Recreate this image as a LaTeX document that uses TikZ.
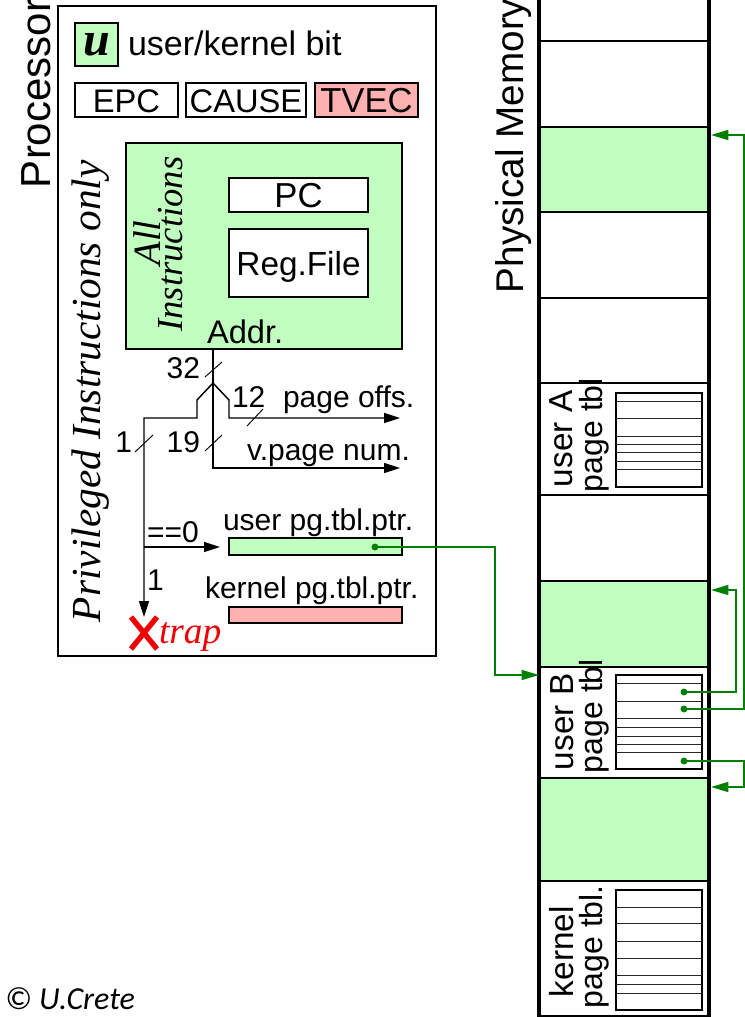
\documentclass[tikz,border=0pt]{standalone}
\usepackage{fontspec}
\setmainfont{Liberation Sans}
\newfontfamily\tmsfont{Liberation Serif}
\newfontfamily\crfont{Carlito}
\usetikzlibrary{fit,arrows.meta}
\newcommand\fsz[1]{\fontsize{#1}{#1}\selectfont}
\definecolor{lgreen}{RGB}{192,255,192}
\definecolor{lpink}{RGB}{255,176,176}
\definecolor{dgreen}{RGB}{0,128,0}
\definecolor{xred}{RGB}{240,0,0}
\begin{document}
\begin{tikzpicture}[x=0.75pt,y=-0.75pt,
 every node/.style={inner sep=0pt,outer sep=0pt},
 regbox/.style={draw,line width=1.1pt},
 boxtext/.style={font=\fsz{24.5pt}},
 lblbig/.style={font=\fsz{24.5pt}},
 lblsmall/.style={font=\fsz{22.5pt}},
 rotlbl/.style={rotate=90,anchor=base west,font=\fsz{24pt}},
 rotlblb/.style={rotate=90,anchor=base west,font=\fsz{25pt}},
 bus/.style={line width=1.1pt},
 busarrow/.style={line width=1.1pt,-{Triangle[length=12pt,width=7.5pt]}},
 garrow/.style={draw=dgreen,line width=1pt,-{Triangle[length=13pt,width=7.5pt]}},
 gdot/.style={circle,fill=dgreen,minimum size=5.2pt},
 divider/.style={line width=1.1pt},
 tblline/.style={line width=0.75pt,black!85},
 ptbl/.style={draw,line width=1pt,fill=white},
 slash/.style={line width=0.7pt},
]
\useasboundingbox (0,0) rectangle (745,1017);

% ---------------- Processor ----------------
\node[draw,line width=2.2pt,fit={(58,6) (436,656)}] (proc) {};
\node[rotate=90,anchor=base west,font=\fsz{31.5pt}] (proclbl) at (50,188) {Processor};

\node[draw,fill=lgreen,line width=2pt,fit={(75,23) (118,66)}] (ubox) {};
\node[font=\tmsfont\bfseries\itshape\fsz{36pt},anchor=base] (ulbl) at (97,55) {u};
\node[anchor=base west,font=\fsz{25.5pt}] (ukb) at (128,55) {user/kernel bit};

\node[regbox,fit={(75,83) (178,117)}] (epc) {};
\node[regbox,fit={(186,83) (306,117)}] (cause) {};
\node[regbox,fill=lpink,fit={(315,83) (418,117)}] (tvec) {};
\node[boxtext,anchor=base] (epct) at (126.5,112) {EPC};
\node[boxtext,anchor=base] (causet) at (246,112) {CAUSE};
\node[boxtext,font=\fsz{26pt},anchor=base] (tvect) at (366.5,112) {TVEC};

\node[rotate=90,anchor=base west,font=\tmsfont\itshape\fsz{31pt}] (priv) at (100,622) {Privileged Instructions only};

\node[draw,fill=lgreen,line width=0.9pt,fit={(126,143) (402,349)}] (allbox) {};
\node[regbox,fill=white,fit={(229,178) (368,212)}] (pc) {};
\node[regbox,fill=white,fit={(229,229) (368,297)}] (rf) {};
\node[font=\fsz{26pt},anchor=base] (pct) at (298.5,207) {PC};
\node[font=\fsz{25pt},anchor=base] (rft) at (298.5,275) {Reg.File};
\node[rotate=90,anchor=base,font=\tmsfont\itshape\fsz{29pt}] (all) at (160,243) {All};
\node[rotate=90,anchor=base,font=\tmsfont\itshape\fsz{27.5pt}] (instr) at (182,244) {Instructions};
\node[anchor=base west,lblbig] (addr) at (207,343) {Addr.};

% bus
\coordinate (a0) at (213,349);
\coordinate (j) at (213,383);
\coordinate (l1) at (197,400);
\coordinate (l2) at (197,418);
\coordinate (l3) at (144,418);
\coordinate (trapin) at (144,617);
\coordinate (r1) at (229,400);
\coordinate (r2) at (229,418);
\coordinate (po) at (400,418);
\coordinate (m1) at (213,468);
\coordinate (vp) at (400,468);
\coordinate (eq0) at (144,547);
\coordinate (eqend) at (220,547);

\draw[bus] (a0) -- (j);
\draw[busarrow] (j) -- (l1) -- (l2) -- (l3) -- (trapin);
\draw[busarrow] (j) -- (r1) -- (r2) -- (po);
\draw[busarrow] (j) -- (m1) -- (vp);
\draw[busarrow] (eq0) -- (eqend);

\draw[slash] (205,377) -- (222,362);
\draw[slash] (247,426) -- (263,409);
\draw[slash] (135,452) -- (153,435);
\draw[slash] (205,451) -- (222,435);

\node[anchor=base east,lblsmall] (n32) at (200,378) {32};
\node[anchor=base west,lblsmall] (n12) at (232,407) {12};
\node[anchor=base west,lblsmall] (pgoffs) at (283,407) {page offs.};
\node[anchor=base east,lblsmall] (n1a) at (132,452) {1};
\node[anchor=base east,lblsmall] (n19) at (200,452) {19};
\node[anchor=base west,lblsmall] (vpn) at (247,460) {v.page num.};
\node[anchor=base west,lblsmall] (eqz) at (147,542) {==0};
\node[anchor=base west,lblsmall] (n1b) at (147,590) {1};

\node[anchor=base west,lblsmall] (uptrlbl) at (223,530) {user pg.tbl.ptr.};
\node[draw,fill=lgreen,line width=1pt,fit={(229,538) (402,555)}] (uptr) {};
\node[anchor=base west,lblsmall] (kptrlbl) at (205,598) {kernel pg.tbl.ptr.};
\node[draw,fill=lpink,line width=1pt,fit={(229,607) (402,623)}] (kptr) {};

% trap
\draw[xred,line width=4pt] (131,617) -- (157,649) (157,617) -- (131,649);
\node[anchor=base west,text=xred,font=\tmsfont\itshape\fsz{28pt}] (trap) at (159,643) {trap};

% ---------------- Memory ----------------
\node[rotate=90,anchor=base west,font=\fsz{29pt}] (pmlbl) at (523,293) {Physical Memory};

\node[fill=lgreen,fit={(539,127) (709,212)}] (fr1) {};
\node[fill=lgreen,fit={(539,581) (709,667)}] (fr2) {};
\node[fill=lgreen,fit={(539,778) (709,881)}] (fr3) {};
\node[fit={(539,383) (709,495)}] (ua) {};
\node[fit={(539,667) (709,778)}] (ub) {};
\node[fit={(539,881) (709,1016)}] (kt) {};

\foreach \yy in {41,127,212,298,383,495,581,667,778,881}
  \draw[divider] (539,\yy) -- (709,\yy);
\draw[line width=0.8pt] (539,1016) -- (709,1016);
\draw[line width=2.4pt] (539,-5) -- (539,1022);
\draw[line width=2.4pt] (709,-5) -- (709,1022);

% page tables
\node[ptbl,fit={(616,393) (702,487)}] (tblA) {};
\foreach \yy in {401,418,436,444,452,461,469}
  \draw[tblline] (616,\yy) -- (702,\yy);
\node[ptbl,fit={(616,675) (702,769)}] (tblB) {};
\foreach \yy in {683,701,718,727,736,744,752}
  \draw[tblline] (616,\yy) -- (702,\yy);
\node[ptbl,fit={(616,890) (702,1010)}] (tblK) {};
\foreach \yy in {907,923,941,958,975,984,993}
  \draw[tblline] (616,\yy) -- (702,\yy);

\node[rotlblb] (uAa) at (572,487) {user A};
\node[rotlbl] (uAb) at (602,492) {page tbl};
\node[rotlblb] (uBa) at (573,770) {user B};
\node[rotlbl] (uBb) at (602,773) {page tbl};
\node[rotlblb] (kta) at (573,997) {kernel};
\node[rotlbl] (ktb) at (602,1008) {page tbl.};

% green pointers
\node[gdot] (d0) at (375,547) {};
\node[gdot] (d1) at (684,692) {};
\node[gdot] (d2) at (684,709) {};
\node[gdot] (d3) at (684,761) {};
\coordinate (tB) at (539,675);
\coordinate (t1) at (711,590);
\coordinate (t2) at (711,135);
\coordinate (t3) at (711,787);

\draw[garrow] (d0.center) -- (495,547) -- (495,675) -- (tB);
\draw[garrow] (d1.center) -- (736,692) -- (736,590) -- (t1);
\draw[garrow] (d2.center) -- (744,709) -- (744,135) -- (t2);
\draw[garrow] (d3.center) -- (744,761) -- (744,787) -- (t3);

% copyright
\node[anchor=base east,font=\crfont\itshape\fsz{24pt}] (copy) at (135,1009) {© U.Crete};
\end{tikzpicture}
\end{document}
